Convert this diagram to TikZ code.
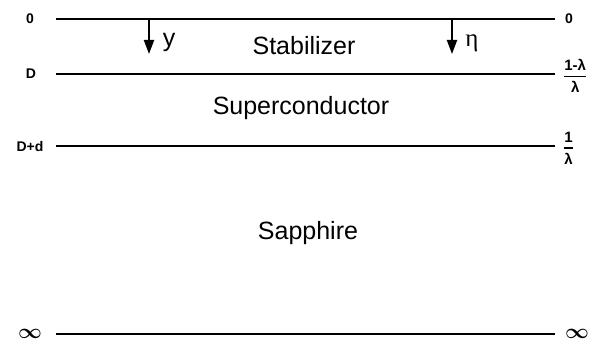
\documentclass[tikz,border=0pt]{standalone}
\usepackage{fontspec}
\setmainfont{Liberation Sans}
\newfontfamily\serifgr{Liberation Serif}
\usetikzlibrary{arrows.meta}
\begin{document}
\begin{tikzpicture}[x=1pt,y=-1pt,
  layer/.style={line width=2.3pt},
  big/.style={font=\fontsize{25}{30}\selectfont, inner sep=0pt, anchor=base},
  small/.style={font=\fontsize{14}{16}\selectfont\bfseries, inner sep=0pt},
  frac/.style={font=\fontsize{15}{17}\selectfont\bfseries, inner sep=0pt, anchor=west},
  inf/.style={font=\fontsize{22}{24}\selectfont\boldmath, inner sep=0pt},
  dir/.style={line width=2pt, -{Triangle[width=10pt,length=14pt]}}]
\useasboundingbox (0,0) rectangle (598,345);
% boundary lines
\coordinate (a0) at (56,19);  \coordinate (b0) at (555,19);
\coordinate (a1) at (56,74);  \coordinate (b1) at (555,74);
\coordinate (a2) at (56,146); \coordinate (b2) at (555,146);
\coordinate (a3) at (56,334); \coordinate (b3) at (555,334);
\draw[layer] (a0) -- (b0);
\draw[layer] (a1) -- (b1);
\draw[layer] (a2) -- (b2);
\draw[layer] (a3) -- (b3);
% left labels
\node[small] (l0) at (30,19) {0};
\node[small] (l1) at (31,74) {D};
\node[small] (l2) at (30,146) {D+d};
\node[inf] (l3) at (30,334) {$\infty$};
% right labels
\node[small, anchor=west] (r0) at (565,19) {0};
\node[frac] (r1) at (563,76) {$\displaystyle{\hbox{1-λ}\above 1.4pt\hbox{λ}}$};
\node[frac] (r2) at (563,148) {$\displaystyle{\hbox{1}\above 1.4pt\hbox{λ}}$};
\node[inf, anchor=west] (r3) at (565,334) {$\infty$};
% region names
\node[big] (stab) at (304,55) {Stabilizer};
\node[big] (sup) at (301,115) {Superconductor};
\node[big] (sap) at (308,240) {Sapphire};
% direction arrows
\coordinate (ya) at (149,19); \coordinate (yb) at (149,54);
\coordinate (ea) at (452,19); \coordinate (eb) at (452,54);
\draw[dir] (ya) -- (yb);
\draw[dir] (ea) -- (eb);
\node[big] (ylab) at (169,47) {y};
\node[font=\serifgr\fontsize{25}{28}\selectfont, inner sep=0pt, anchor=base] (eta) at (472,47) {η};
\end{tikzpicture}
\end{document}
